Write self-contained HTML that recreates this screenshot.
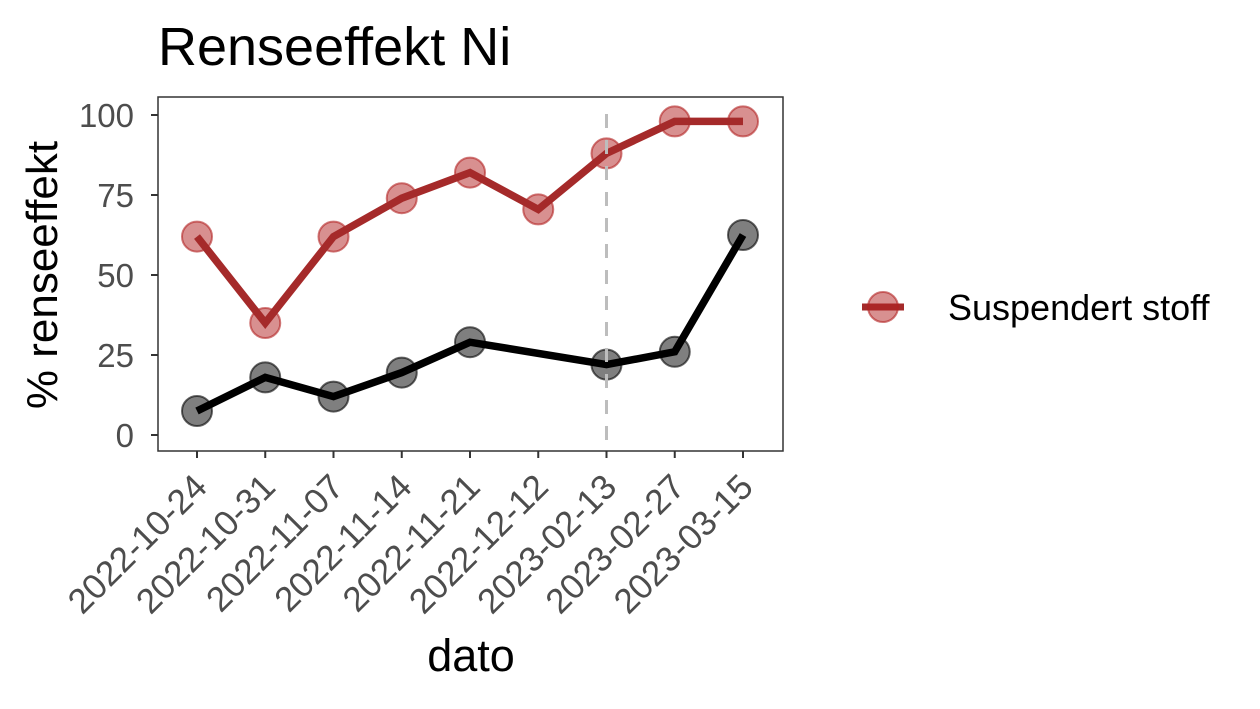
<!DOCTYPE html>
<html><head><meta charset="utf-8"><style>
body{margin:0;background:#fff;width:1260px;height:704px;overflow:hidden}
text{font-family:"Liberation Sans",Arial,sans-serif}
</style></head><body>
<svg id="chart" width="1260" height="704" xmlns="http://www.w3.org/2000/svg">
<text x="158" y="65" font-size="54" fill="#000">Renseeffekt Ni</text>
<rect x="158" y="97" width="625" height="354" fill="#fff" stroke="#333" stroke-width="1.5"/>
<g id="axes"></g>
<g id="marks"></g>
<text x="471" y="671" font-size="45" text-anchor="middle">dato</text>
<text transform="translate(57,275) rotate(-90)" font-size="44" text-anchor="middle">% renseeffekt</text>
<g>
<line x1="862" y1="307" x2="904" y2="307" stroke="#a52a2a" stroke-width="7"/>
<circle cx="883" cy="307" r="15" fill="rgba(178,34,34,0.5)" stroke="rgba(178,34,34,0.6)" stroke-width="2"/>
<text x="948" y="320" font-size="36" fill="#000">Suspendert stoff</text>
</g>
</svg>
<script>
const dates=["2022-10-24","2022-10-31","2022-11-07","2022-11-14","2022-11-21","2022-12-12","2023-02-13","2023-02-27","2023-03-15"];
const suspendert=[62,35,62,74,82,70.5,88,98,98];
const ni=[7.5,18,12,19.5,29,null,22,26,62.5];
const yTicks=[0,25,50,75,100];
const dashDate="2023-02-13";
const NS="http://www.w3.org/2000/svg";
const x=i=>197+i*68.25;
const y=v=>435-v*3.2;
function mk(tag,attrs,parent){const e=document.createElementNS(NS,tag);for(const k in attrs)e.setAttribute(k,attrs[k]);parent.appendChild(e);return e;}
const axes=document.getElementById('axes'),marks=document.getElementById('marks');
yTicks.forEach(t=>{
 const l=mk('line',{x1:151,x2:158,y1:y(t),y2:y(t),stroke:'#333','stroke-width':2},axes);
 
 
 const tx=mk('text',{x:134,y:y(t)+12,'font-size':33,fill:'#4d4d4d','text-anchor':'end'},axes);
 tx.textContent=t;
 
 
});
dates.forEach((d,i)=>{
 const l=mk('line',{x1:x(i),x2:x(i),y1:451,y2:458,stroke:'#333','stroke-width':2},axes);
 
 
 const tx=mk('text',{transform:`translate(${x(i)+12},${489}) rotate(-45)`,'font-size':35,fill:'#4d4d4d','text-anchor':'end'},axes);
 tx.textContent=d;
 
 
});
function series(vals,lineCol,fill,stroke,name){
 const pts=vals.map((v,i)=>v==null?null:[x(i),y(v)]).filter(p=>p);
 pts.forEach(p=>{
  const c=mk('circle',{cx:p[0],cy:p[1],r:15,fill:fill,stroke:stroke,'stroke-width':2},marks);
  
  
 });
 const pl=mk('polyline',{points:pts.map(p=>p.join(',')).join(' '),fill:'none',stroke:lineCol,'stroke-width':7.5,'stroke-linejoin':'miter'},marks);
 
 
}
series(suspendert,'#a52a2a','rgba(178,34,34,0.5)','rgba(178,34,34,0.6)','suspendert-stoff');
series(ni,'#000','rgba(0,0,0,0.5)','rgba(0,0,0,0.6)','ni');
const di=dates.indexOf(dashDate);
const dl=mk('line',{x1:x(di),x2:x(di),y1:114,y2:451,stroke:'#bdbdbd','stroke-width':3,'stroke-dasharray':'14,12'},marks);


</script>
</body></html>
